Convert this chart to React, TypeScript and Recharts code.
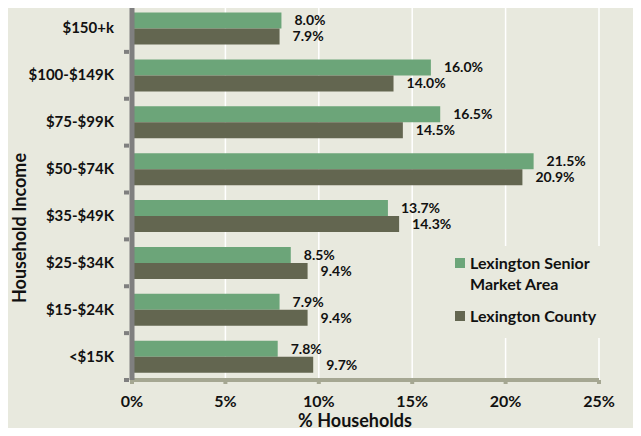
import * as React from "react";
import {Bar, BarChart, CartesianGrid, Label, LabelList, Legend, XAxis, YAxis} from "recharts";

const categories = ["$150+k", "$100-$149K", "$75-$99K", "$50-$74K", "$35-$49K", "$25-$34K", "$15-$24K", "<$15K"];
const seniorMarket = [8.0, 16.0, 16.5, 21.5, 13.7, 8.5, 7.9, 7.8];
const county = [7.9, 14.0, 14.5, 20.9, 14.3, 9.4, 9.4, 9.7];
const xTicks = [0, 5, 10, 15, 20, 25];

const data = categories.map((name, i) => ({name, senior: seniorMarket[i], county: county[i]}));

const GREEN = "#6ca579";
const DARK = "#636650";
const BG = "#e8e9de";
const FONT = "Lato, 'Open Sans', sans-serif";

const fmt = (v: any) => `${Number(v).toFixed(1)}%`;

// category label plus the little boundary notch on the axis
const CatTick = (props: any) => {
  const {x, y, payload, index} = props;
  const half = 375 / categories.length / 2;
  return (
    <g>
      <text x={x - 10} y={y} dy={5} textAnchor="end" fontFamily={FONT} fontWeight={700} fontSize={15} fill="#111">
        {payload.value}
      </text>
      <rect x={x} y={y - half - 2} width={5} height={4} fill="#7f7f7f" />
      {index === categories.length - 1 && <rect x={x} y={y + half - 2} width={5} height={4} fill="#7f7f7f" />}
    </g>
  );
};

const LegendBox = () => (
  <div style={{background: BG, padding: "6px 6px 12px 14px", fontFamily: FONT, fontWeight: 700, fontSize: 16, color: "#111", lineHeight: "21px"}}>
    <div style={{display: "flex", alignItems: "flex-start", marginBottom: 11}}>
      <span style={{width: 10, height: 10, background: GREEN, marginTop: 6, marginRight: 5, flex: "none"}} />
      <span>Lexington Senior<br />Market Area</span>
    </div>
    <div style={{display: "flex", alignItems: "flex-start"}}>
      <span style={{width: 10, height: 10, background: DARK, marginTop: 6, marginRight: 5, flex: "none"}} />
      <span>Lexington County</span>
    </div>
  </div>
);

export default function App() {
  return (
    <div style={{width: 641, height: 436, background: BG, margin: -8}}>
      <BarChart
        width={641}
        height={436}
        data={data}
        layout="vertical"
        margin={{top: 5, right: 42, bottom: 0, left: 0}}
        barCategoryGap="16%"
        barGap={0}
      >
        <CartesianGrid horizontal={false} stroke="#ffffff" strokeWidth={1.5} />
        <XAxis
          type="number"
          domain={[0, 25]}
          ticks={xTicks}
          tickFormatter={(v) => `${v}%`}
          height={56}
          stroke="#a5a792"
          strokeWidth={4}
          tickSize={4}
          tick={{fill: "#111", fontFamily: FONT, fontWeight: 700, fontSize: 16}}
          tickMargin={12}
        >
          <Label
            content={() => (
              <text x={355} y={427} textAnchor="middle" fontFamily={FONT} fontWeight={700} fontSize={18} fill="#111">
                % Households
              </text>
            )}
          />
        </XAxis>
        <YAxis
          type="category"
          dataKey="name"
          width={132}
          stroke="#7f7f7f"
          strokeWidth={5}
          tickLine={false}
          tick={<CatTick />}
          interval={0}
        >
          <Label
            content={() => (
              <text x={26} y={228} transform="rotate(-90 26 228)" textAnchor="middle" fontFamily={FONT} fontWeight={700} fontSize={18} fill="#111">
                Household Income
              </text>
            )}
          />
        </YAxis>
        <Legend
          layout="horizontal"
          verticalAlign="middle"
          align="center"
          content={<LegendBox />}
          wrapperStyle={{top: 246, left: 441, width: 165}}
        />
        <Bar dataKey="senior" name="Lexington Senior Market Area" fill={GREEN} isAnimationActive={false}>
          <LabelList dataKey="senior" position="right" offset={13} formatter={fmt} fill="#111" fontFamily={FONT} fontWeight={700} fontSize={14} />
        </Bar>
        <Bar dataKey="county" name="Lexington County" fill={DARK} isAnimationActive={false}>
          <LabelList dataKey="county" position="right" offset={13} formatter={fmt} fill="#111" fontFamily={FONT} fontWeight={700} fontSize={14} />
        </Bar>
      </BarChart>
    </div>
  );
}
